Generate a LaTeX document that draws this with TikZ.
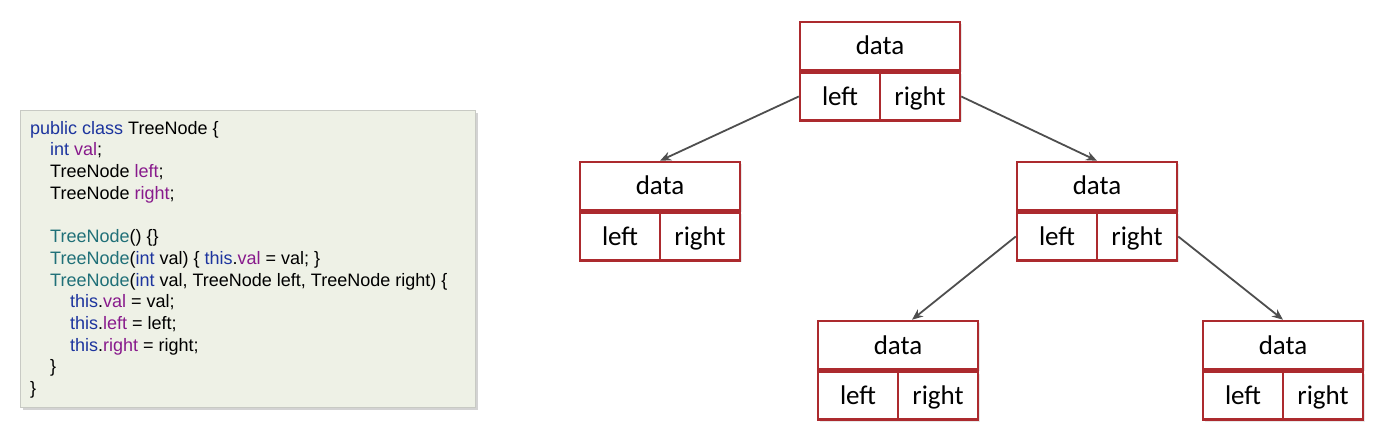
\documentclass[tikz,border=0pt]{standalone}
\usepackage{fontspec}
\newfontfamily\codefont{Liberation Sans}
\newfontfamily\cellfont{Carlito}
\definecolor{boxred}{RGB}{172,42,46}
\definecolor{arrowgray}{RGB}{78,78,78}
\definecolor{codebg}{RGB}{238,241,230}
\definecolor{codeline}{RGB}{200,202,196}
\definecolor{kwblue}{RGB}{28,52,158}
\definecolor{fieldpurple}{RGB}{136,26,140}
\definecolor{ctorteal}{RGB}{32,112,120}
\usetikzlibrary{arrows.meta,positioning,shadows}

\begin{document}
\begin{tikzpicture}[x=1pt, y=-1pt,
      arr/.style={-{Stealth[length=11pt,width=9pt]}, line width=1.8pt, arrowgray},
      cell/.style={draw=boxred, line width=2.5pt, fill=white, inner sep=0pt,
                   minimum height=48pt, text height=21pt, text depth=3pt,
                   font=\cellfont\fontsize{27}{31}\selectfont,
                   drop shadow={opacity=0.18, shadow xshift=2pt, shadow yshift=-2pt}},
      datacell/.style={cell, minimum width=160pt},
      halfcell/.style={cell, minimum width=80pt},
      codebox/.style={draw=codeline, line width=0.6pt, fill=codebg,
                      minimum width=455pt, minimum height=297pt, inner sep=0pt,
                      drop shadow={opacity=0.35, shadow xshift=3pt, shadow yshift=-3pt}},
      codetext/.style={align=left, inner sep=0pt,
                       font=\codefont\fontsize{18}{21.7}\selectfont}
    ]
    \useasboundingbox (0,0) rectangle (1375,430);

    % the Java class
    \node[codebox, anchor=north west] (box) at (20,110) {};
    \node[codetext, below right=11pt and 10pt of box.north west] (code) {%
      \textcolor{kwblue}{public class} TreeNode \{\\
      \hspace*{20pt}\textcolor{kwblue}{int} \textcolor{fieldpurple}{val};\\
      \hspace*{20pt}TreeNode \textcolor{fieldpurple}{left};\\
      \hspace*{20pt}TreeNode \textcolor{fieldpurple}{right};\\
      \mbox{}\\
      \hspace*{20pt}\textcolor{ctorteal}{TreeNode}() \{\}\\
      \hspace*{20pt}\textcolor{ctorteal}{TreeNode}(\textcolor{kwblue}{int} val) \{ \textcolor{kwblue}{this}.\textcolor{fieldpurple}{val} = val; \}\\
      \hspace*{20pt}\textcolor{ctorteal}{TreeNode}(\textcolor{kwblue}{int} val, TreeNode left, TreeNode right) \{\\
      \hspace*{40pt}\textcolor{kwblue}{this}.\textcolor{fieldpurple}{val} = val;\\
      \hspace*{40pt}\textcolor{kwblue}{this}.\textcolor{fieldpurple}{left} = left;\\
      \hspace*{40pt}\textcolor{kwblue}{this}.\textcolor{fieldpurple}{right} = right;\\
      \hspace*{20pt}\}\\
      \}};

    % root
    \node[datacell] (rt-d) at (880,46) {data};
    \node[halfcell, below right=0pt and 0pt of rt-d.south west] (rt-l) {left};
    \node[halfcell, below left=0pt and 0pt of rt-d.south east] (rt-r) {right};
    % second level
    \node[datacell] (c1-d) at (660,186) {data};
    \node[halfcell, below right=0pt and 0pt of c1-d.south west] (c1-l) {left};
    \node[halfcell, below left=0pt and 0pt of c1-d.south east] (c1-r) {right};
    \node[datacell] (c2-d) at (1097,186) {data};
    \node[halfcell, below right=0pt and 0pt of c2-d.south west] (c2-l) {left};
    \node[halfcell, below left=0pt and 0pt of c2-d.south east] (c2-r) {right};
    % third level
    \node[datacell] (c3-d) at (898,345) {data};
    \node[halfcell, below right=0pt and 0pt of c3-d.south west] (c3-l) {left};
    \node[halfcell, below left=0pt and 0pt of c3-d.south east] (c3-r) {right};
    \node[datacell] (c4-d) at (1283,345) {data};
    \node[halfcell, below right=0pt and 0pt of c4-d.south west] (c4-l) {left};
    \node[halfcell, below left=0pt and 0pt of c4-d.south east] (c4-r) {right};

    \draw[arr] (rt-l.west) -- (c1-d.north);
    \draw[arr] (rt-r.east) -- (c2-d.north);
    \draw[arr] (c2-l.west) -- ([xshift=14pt]c3-d.north);
    \draw[arr] (c2-r.east) -- (c4-d.north);
\end{tikzpicture}
\end{document}
